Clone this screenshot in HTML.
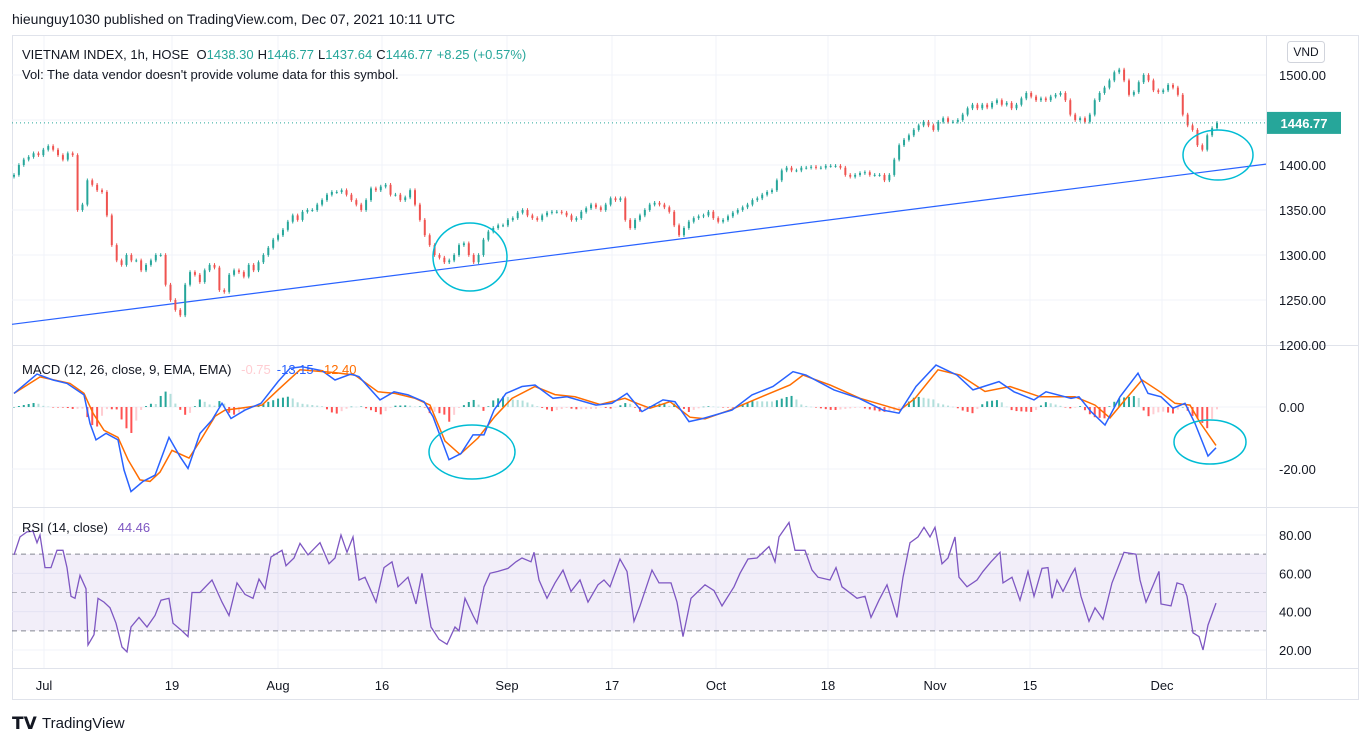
<!DOCTYPE html>
<html><head><meta charset="utf-8">
<style>
html,body{margin:0;padding:0;background:#fff;}
svg{display:block;font-family:"Liberation Sans",sans-serif;}
</style></head>
<body>
<svg id="c" width="1359" height="745" viewBox="0 0 1359 745" xmlns="http://www.w3.org/2000/svg">
<text x="12" y="24" font-size="14" fill="#131722">hieunguy1030 published on TradingView.com, Dec 07, 2021 10:11 UTC</text>
<rect x="12.5" y="35.5" width="1346" height="664" fill="none" stroke="#e0e3eb"/>
<g id="grid"></g>
<g id="trend"></g>
<g id="candles"></g>
<g id="macdG"></g>
<g id="rsiG"></g>
<g id="ann"></g>
<line x1="12" y1="345.5" x2="1359" y2="345.5" stroke="#e0e3eb"/>
<line x1="12" y1="507.5" x2="1359" y2="507.5" stroke="#e0e3eb"/>
<line x1="12" y1="668.5" x2="1359" y2="668.5" stroke="#e0e3eb"/>
<line x1="1266.5" y1="35" x2="1266.5" y2="700" stroke="#e0e3eb"/>
<g id="axes"></g>
<text x="22" y="59" font-size="13" fill="#131722">VIETNAM INDEX, 1h, HOSE <tspan dx="4">O</tspan><tspan fill="#26a69a">1438.30</tspan><tspan dx="4">H</tspan><tspan fill="#26a69a">1446.77</tspan><tspan dx="4">L</tspan><tspan fill="#26a69a">1437.64</tspan><tspan dx="4">C</tspan><tspan fill="#26a69a">1446.77</tspan><tspan dx="4" fill="#26a69a">+8.25 (+0.57%)</tspan></text>
<text x="22" y="79" font-size="13" fill="#131722">Vol: The data vendor doesn't provide volume data for this symbol.</text>
<text x="22" y="374" font-size="13" fill="#131722">MACD (12, 26, close, 9, EMA, EMA) <tspan dx="6" fill="#ffcdd2">-0.75</tspan><tspan dx="6" fill="#2962ff">-13.15</tspan><tspan dx="6" fill="#ff6d00">-12.40</tspan></text>
<text x="22" y="532" font-size="13" fill="#131722">RSI (14, close) <tspan dx="6" fill="#7e57c2">44.46</tspan></text>
<rect x="1287.5" y="41.5" width="37" height="21" rx="3" fill="#fff" stroke="#d1d4dc"/>
<text x="1306" y="56" font-size="12" fill="#131722" text-anchor="middle">VND</text>
<g>
<text x="12" y="729" font-size="17" font-weight="bold" fill="#131722">𝗧𝗩</text>
<text x="42" y="728" font-size="15" fill="#131722">TradingView</text>
</g>
</svg>
<script>
// ---- data ----
const closes = [1389,1400,1406,1409,1413,1411,1417,1421,1417,1411,1406,1413,1411,1350,1356,1383,1378,1372,1370,1344,1311,1294,1289,1300,1294,1294,1283,1289,1294,1300,1300,1267,1250,1239,1233,1267,1281,1278,1270,1283,1289,1286,1261,1259,1278,1283,1281,1276,1289,1283,1292,1300,1308,1317,1322,1328,1337,1344,1339,1348,1350,1350,1356,1361,1367,1370,1370,1372,1367,1361,1356,1350,1361,1374,1372,1376,1378,1367,1367,1361,1364,1372,1356,1339,1322,1311,1300,1297,1292,1294,1300,1311,1313,1300,1292,1300,1317,1326,1330,1333,1333,1339,1341,1347,1350,1344,1341,1339,1344,1347,1348,1348,1347,1344,1339,1341,1348,1352,1356,1353,1350,1356,1363,1361,1363,1339,1330,1339,1344,1350,1356,1358,1356,1353,1348,1333,1322,1330,1337,1341,1343,1344,1348,1341,1337,1339,1343,1347,1350,1353,1356,1361,1363,1367,1370,1372,1383,1394,1397,1394,1394,1397,1397,1398,1397,1397,1399,1399,1399,1397,1389,1387,1389,1391,1392,1389,1389,1389,1383,1389,1406,1422,1428,1433,1439,1444,1448,1444,1439,1448,1452,1448,1448,1450,1456,1463,1467,1463,1467,1464,1469,1472,1467,1469,1463,1467,1474,1480,1476,1472,1474,1472,1476,1478,1480,1472,1456,1450,1452,1448,1456,1472,1480,1486,1494,1503,1506,1494,1478,1481,1492,1500,1494,1483,1481,1483,1489,1486,1478,1456,1444,1439,1422,1417,1433,1441,1446.77];
const lastT = 240.6;
const macdT = [0,4.6,7.8,10.6,14,15.2,16.4,18.4,20.8,22,23.4,25.8,28.2,31,33.2,34.8,37.2,39.6,41.6,43.4,46.2,49.4,52.8,55.2,57.6,61.6,64.2,67.4,69,73.2,76,78.8,82,83.8,87,89.4,91.8,94,96,98.4,101.6,104.2,107.8,110.6,116.4,119.6,122.6,125.6,129.8,132.2,135,137.8,143.6,147.6,151.8,155.8,158.4,164,169,173.8,177,180.4,184.4,188.6,191.8,197,200,204,206.4,211.4,213,215.4,218.2,221.2,224.8,226.8,229.4,231.8,234.2,236.2,238.8,240.4];
const macdV = [4.4,10.6,8.7,7.6,3.9,-5.3,-10.6,-8.5,-10.6,-20.3,-27.3,-24,-22,-9.8,-16,-19.8,-8.5,-4.2,1.2,-3.7,-1,1.2,8.2,12.5,13,11.7,8.7,10.6,9.8,2.3,4.9,3.9,1.7,-3.1,-17,-15,-9,-9,-1,4.4,6.6,7.1,2.8,3.3,0.6,1.2,4.4,-1.5,2.3,1.7,-4.7,-3.7,-1,3.9,6.6,11.4,10.3,5.5,2.8,-1,-2,6.6,13.5,10.3,5.5,8.2,4.9,2.3,4.9,2.8,3.3,-1.5,-5.8,3.3,10.9,4.4,3.3,-0.4,1.2,-5.3,-15.8,-13.15];
const signalT = [0,5.2,11.2,14,15.8,18,20.8,22.8,25.2,27.2,29.2,31.6,35,37.2,40.2,42.2,45.2,49.6,52.8,57.2,64.2,68.2,72.8,76.2,80.2,83.2,86.2,89.2,92.8,96.2,99.6,104.2,108.2,112.2,117.2,122.2,124.6,127.2,131.2,135.2,138.2,143.2,149.2,155.2,157.8,163.2,169.2,177.2,180.2,184.8,189.2,194.2,199.2,205.2,212.2,216.2,219.2,222.2,225.6,229.2,232.2,235.2,237.2,240.4];
const signalV = [4.4,9.7,7.6,4.4,-2,-7.5,-9.8,-17,-23.5,-24,-21,-14,-16.5,-11,-3,-1,-0.4,0.6,5.5,12,11.1,10.3,4.9,4.4,2.8,0.6,-11,-15.3,-10,-3,2.8,6.6,4,3.3,0.8,2.8,1.2,-0.4,1.7,-3.3,-3.8,-1,3.1,7.1,10.3,7.1,2.8,-1,2.8,12,10.3,5,6.6,3.3,3.3,0.6,-3.5,2.3,8.7,4.9,1.2,0.6,-5,-12.4];
const rsiPts = [[0,69.6],[1.2,79],[2.6,81.6],[3.8,82],[4.6,76],[5.2,80],[6.2,63],[7.4,63],[8.6,72],[9.8,72],[10.6,63],[11.4,48],[12.2,47],[13.2,59],[14.4,52],[14.8,22.6],[16,28],[16.8,47],[18,45],[19.2,42],[20.4,34],[21.6,21.6],[22.6,19],[23.4,32],[25,37],[26.6,32],[28.2,38],[29.4,46],[31,47],[31.8,34],[33.6,30],[34.8,27],[35.6,50],[37.2,50],[39.6,56.5],[41.6,45],[43,38],[44.6,55],[46.2,49],[47.8,47],[49,57],[50.2,52],[51.4,68.5],[53.6,72],[54.4,64],[56,68],[57.2,75.6],[58.8,69.6],[61.2,76],[63,65],[64.2,68],[65.4,80],[66.6,71],[67.8,79],[69,56.5],[70.2,58],[72.4,45],[74,63],[75.6,66],[76.8,53],[78.8,58],[80.4,44],[81.6,60],[83.4,32],[85,25.6],[86.6,23],[88.2,32],[89,30],[90.2,47],[91.8,38],[92.6,34],[94,53],[95.2,60],[96.8,61],[98.8,62.6],[100.4,66],[101.6,68],[103.4,66],[104,71],[105,56.5],[106.6,47],[108.2,55],[109.8,61.7],[111.4,50.6],[113.2,56.5],[114.8,45],[116.8,54],[118,56.5],[119.2,53],[121.2,67.5],[122.6,61],[124,35],[125.2,43],[127.6,61.7],[129,55],[131.4,55],[132.6,45],[133.8,27],[135.4,47],[138.2,54],[140,51],[141.6,43],[144,53],[145.2,60],[146.8,67.5],[148.6,68],[151,74],[152.2,66],[153,79],[155,86.5],[156.2,72],[158.2,72],[159.6,61.7],[160.8,58],[163.2,56.5],[164.4,63],[165.6,53],[168.6,47],[170.2,48],[171.4,37],[173,46],[174.6,54],[176.6,37],[177.8,58],[179.2,76],[180.8,79],[182,84],[183.2,79],[184.2,84],[185.6,65],[186.8,68],[188.2,79],[189,58],[190.6,53],[192.6,56.5],[193.8,61],[195.4,66],[197.2,71],[197.8,55],[199.6,58],[201.2,46],[202.8,61],[204,48],[205.6,62.6],[206.8,63],[207.6,47],[208.6,56.5],[209.8,50.6],[211.4,59],[212.2,62.6],[213.4,48],[215,35],[216.2,42],[217.8,36],[219.6,55],[220.8,63],[222,71],[224.4,70],[225.2,56.5],[226.4,45],[229,61],[229.4,44],[231.4,43],[232.6,55],[233.8,54],[234.6,48],[235.8,29],[237,27],[237.8,20],[238.8,33],[240.4,44.46]];
const timeTicks = [[6,"Jul"],[31.6,"19"],[52.8,"Aug"],[73.6,"16"],[98.6,"Sep"],[119.6,"17"],[140.4,"Oct"],[162.8,"18"],[184.2,"Nov"],[203.2,"15"],[229.6,"Dec"]];
const priceTicks = [1500,1450,1400,1350,1300,1250,1200];
const macdTicks = [0,-20];
const rsiTicks = [80,60,40,20];

// ---- scales ----
const NS="http://www.w3.org/2000/svg";
const X = t => 14 + t*5;
const PY = p => 75 + (1500-p)*0.9;
const MY = v => 407 - v*3.1;
const RY = v => 535 + (80-v)*1.917;
function mk(tag, attrs, parent){const e=document.createElementNS(NS,tag);for(const k in attrs)e.setAttribute(k,attrs[k]);parent.appendChild(e);return e;}
function interp(ts, vs, t){ if(t<=ts[0])return vs[0]; for(let i=1;i<ts.length;i++){ if(t<=ts[i]){const f=(t-ts[i-1])/(ts[i]-ts[i-1]);return vs[i-1]+f*(vs[i]-vs[i-1]);} } return vs[vs.length-1]; }
const grid=document.getElementById('grid'), axes=document.getElementById('axes');

// grid
timeTicks.forEach(tk=>{
  const l=mk('line',{x1:X(tk[0]),x2:X(tk[0]),y1:36,y2:668,stroke:'#f0f3fa'},grid);
  
  
  const tx=mk('text',{x:X(tk[0]),y:690,'font-size':13,fill:'#131722','text-anchor':'middle'},axes);
  tx.textContent=tk[1];
  
  
});
priceTicks.forEach(p=>{
  const y=PY(p);
  if(p>1200){const l=mk('line',{x1:12,x2:1266,y1:y,y2:y,stroke:'#f0f3fa'},grid);
  
  }
  const tx=mk('text',{x:1279,y:y+5,'font-size':13,fill:'#131722'},axes);
  tx.textContent=p.toFixed(2);
  
  
});
macdTicks.forEach(v=>{
  const y=MY(v);
  const l=mk('line',{x1:12,x2:1266,y1:y,y2:y,stroke:'#f0f3fa'},grid);
  
  
  const tx=mk('text',{x:1279,y:y+5,'font-size':13,fill:'#131722'},axes);
  tx.textContent=v.toFixed(2);
  
  
});
rsiTicks.forEach(v=>{
  const y=RY(v);
  const l=mk('line',{x1:12,x2:1266,y1:y,y2:y,stroke:'#f0f3fa'},grid);
  
  
  const tx=mk('text',{x:1279,y:y+5,'font-size':13,fill:'#131722'},axes);
  tx.textContent=v.toFixed(2);
  
  
});

// trend line (user drawing)
const tr=document.getElementById('trend');
const tl=mk('line',{x1:12,y1:PY(1223),x2:1266,y2:PY(1401),stroke:'#2962ff','stroke-width':1.2},tr);



// candles
const cg=document.getElementById('candles');
const n=closes.length;
for(let i=0;i<n;i++){
  const t=i*lastT/(n-1), x=X(t);
  const o=i?closes[i-1]:closes[0]-2, c=closes[i];
  const up=c>=o, col=up?'#26a69a':'#ef5350';
  const hi=Math.max(o,c)+2, lo=Math.min(o,c)-2;
  const w=mk('line',{x1:x,x2:x,y1:PY(hi),y2:PY(lo),stroke:col,'stroke-width':1},cg);
  
  
  const b=mk('rect',{x:x-1,y:PY(Math.max(o,c)),width:2,height:Math.max(1,Math.abs(PY(o)-PY(c))),fill:col},cg);
  
  
}
// last price line & label
const lp=closes[n-1];
const pl=mk('line',{x1:12,x2:1266,y1:PY(lp),y2:PY(lp),stroke:'#26a69a','stroke-dasharray':'1 3'},cg);


const pb=mk('rect',{x:1267,y:PY(lp)-11,width:74,height:22,fill:'#26a69a'},axes);


const pt=mk('text',{x:1304,y:PY(lp)+5,'font-size':13,'font-weight':'bold',fill:'#fff','text-anchor':'middle'},axes);
pt.textContent=lp.toFixed(2);



// MACD
const mg=document.getElementById('macdG');
let prevH=0;
for(let i=0;i<n;i++){
  const t=i*lastT/(n-1);
  const h=interp(macdT,macdV,t)-interp(signalT,signalV,t);
  let col;
  if(h>=0) col = h>=prevH ? '#26a69a' : '#b2dfdb'; else col = h<=prevH ? '#ff5252' : '#ffcdd2';
  prevH=h;
  const y0=MY(0), y1=MY(h);
  const r=mk('rect',{x:X(t)-1,y:Math.min(y0,y1),width:2,height:Math.max(0.5,Math.abs(y1-y0)),fill:col},mg);
  
  
}
const sp=mk('path',{d:signalT.map((t,i)=>(i?'L':'M')+X(t).toFixed(1)+' '+MY(signalV[i]).toFixed(1)).join(''),fill:'none',stroke:'#ff6d00','stroke-width':1.5},mg);


const mp=mk('path',{d:macdT.map((t,i)=>(i?'L':'M')+X(t).toFixed(1)+' '+MY(macdV[i]).toFixed(1)).join(''),fill:'none',stroke:'#2962ff','stroke-width':1.5},mg);



// RSI
const rg=document.getElementById('rsiG');
const band=mk('rect',{x:12,y:RY(70),width:1254,height:RY(30)-RY(70),fill:'#7e57c2','fill-opacity':0.1},rg);


[70,50,30].forEach(v=>{
  const l=mk('line',{x1:12,x2:1266,y1:RY(v),y2:RY(v),stroke:'#787b86','stroke-dasharray':v===50?'5 4':'5 4','stroke-opacity':v===50?0.5:0.9},rg);
  
  
});
const rp=mk('path',{d:rsiPts.map((p,i)=>(i?'L':'M')+X(p[0]).toFixed(1)+' '+RY(p[1]).toFixed(1)).join(''),fill:'none',stroke:'#7e57c2','stroke-width':1.3},rg);



// hand-drawn annotation circles
const an=document.getElementById('ann');
[[470,257,37,34],[1218,155,35,25],[472,452,43,27],[1210,442,36,22]].forEach(c=>{
  const e=mk('ellipse',{cx:c[0],cy:c[1],rx:c[2],ry:c[3],fill:'none',stroke:'#00bcd4','stroke-width':1.5},an);
  
  
});
</script>
</body></html>
